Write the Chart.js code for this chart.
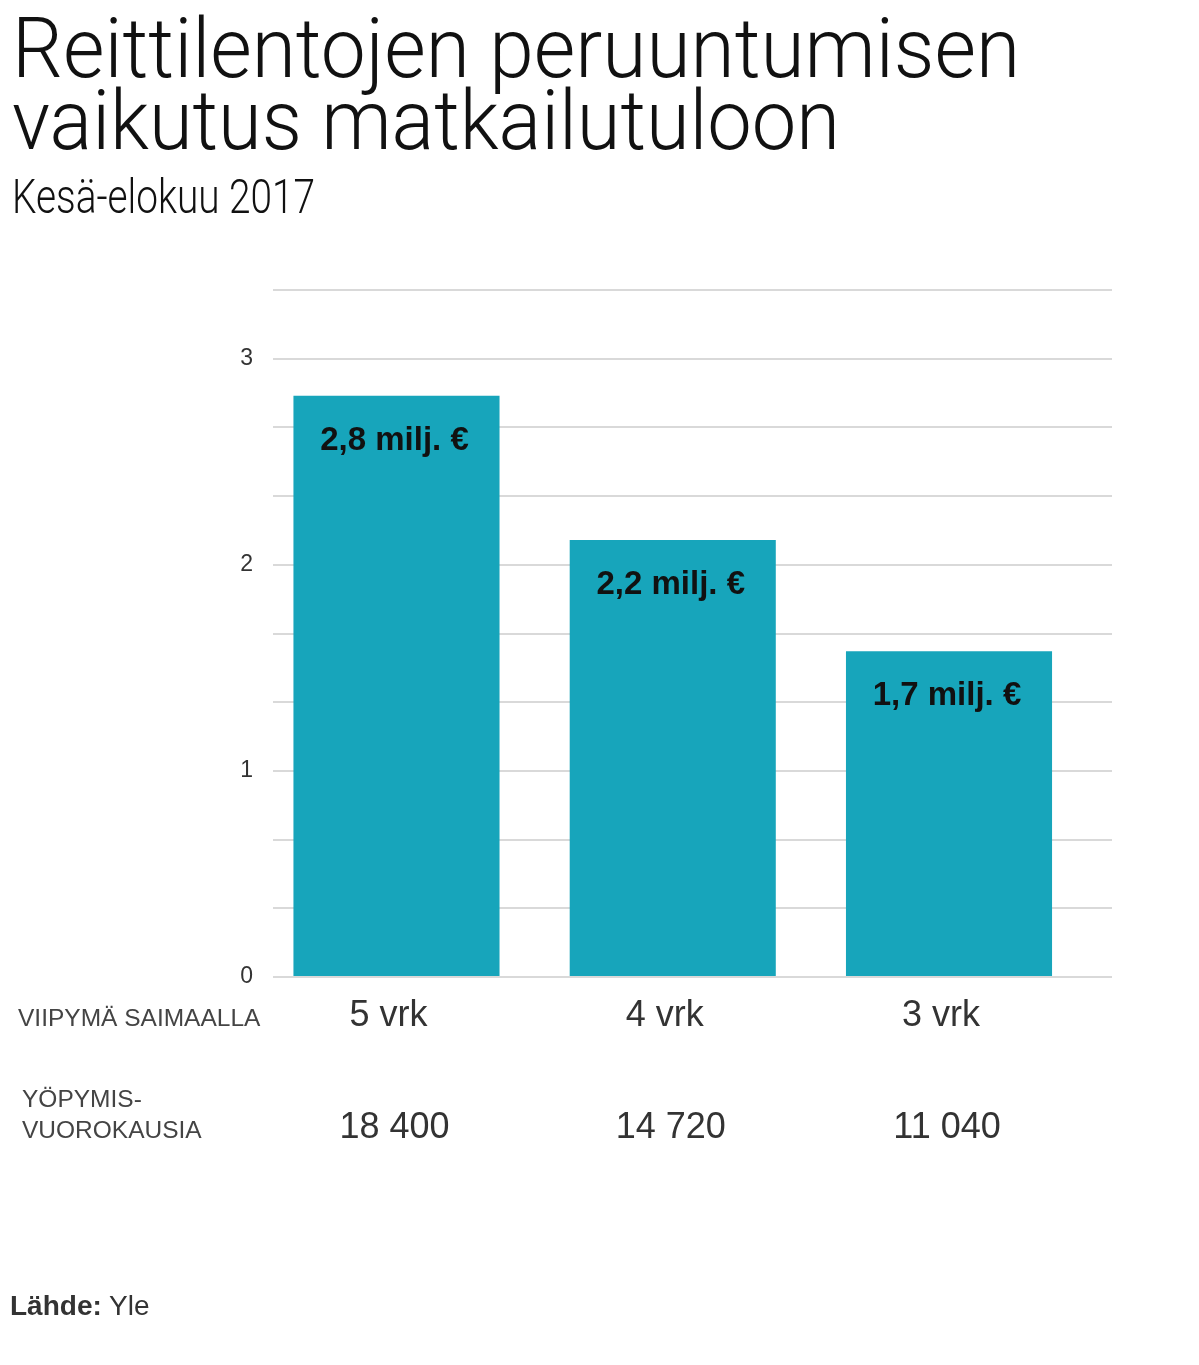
<!DOCTYPE html>
<html>
<head>
<meta charset="utf-8">
<script src="https://cdn.jsdelivr.net/npm/chart.js@4.4.1/dist/chart.umd.min.js"></script>
<style>
  html, body { margin: 0; padding: 0; background: #fff; overflow: hidden; }
  #wrap { position: relative; width: 1199px; height: 1365px; }
  #wrap canvas { position: absolute; left: 0; top: 0; }
  .t { position: absolute; left: 12px; white-space: nowrap; color: #111; font-family: Roboto, sans-serif; font-weight: 300; line-height: 1; transform-origin: 0 0; }
  #title1 { top: 7px; font-size: 84px; }
  #title2 { top: 79px; font-size: 84px; }
  #sub { top: 173px; font-size: 48px; }
  #src { position: absolute; left: 10px; top: 1290px; font: 28px "Liberation Sans", Arial, sans-serif; color: #333; }
</style>
</head>
<body>
<div id="wrap">
  <canvas id="chart" width="1199" height="1365"></canvas>
  <div class="t" id="title1" data-w="1008">Reittilentojen peruuntumisen</div>
  <div class="t" id="title2" data-w="828">vaikutus matkailutuloon</div>
  <div class="t" id="sub" data-w="303">Kesä-elokuu 2017</div>
  <div id="src"><b>Lähde:</b> Yle</div>
</div>
<script>
const stayLabels = ['5 vrk', '4 vrk', '3 vrk'];
const nights = ['18 400', '14 720', '11 040'];
const revenue = [2.82, 2.12, 1.58];
const revenueLabels = ['2,8 milj. €', '2,2 milj. €', '1,7 milj. €'];
const yTicks = [0, 1, 2, 3];

// squeeze title lines to the width they take in the picture
document.querySelectorAll('.t').forEach(el => {
  const w = el.getBoundingClientRect().width;
  el.style.transform = 'scaleX(' + (el.dataset.w / w) + ')';
});

const barText = {
  id: 'barText',
  afterDatasetsDraw(chart) {
    const ctx = chart.ctx;
    const bars = chart.getDatasetMeta(0).data;
    ctx.save();
    ctx.textAlign = 'center';
    ctx.textBaseline = 'middle';
    bars.forEach((bar, i) => {
      ctx.fillStyle = '#111';
      ctx.font = 'bold 33px "Liberation Sans", Arial, sans-serif';
      ctx.fillText(revenueLabels[i], bar.x - 2, bar.y + 45);

      ctx.fillStyle = '#333';
      ctx.font = '36px "Liberation Sans", Arial, sans-serif';
      ctx.fillText(stayLabels[i], bar.x - 8, 1016);
      ctx.fillText(nights[i], bar.x - 2, 1128);
    });
    ctx.textAlign = 'left';
    ctx.fillStyle = '#444';
    ctx.font = '24.5px "Liberation Sans", Arial, sans-serif';
    ctx.fillText('VIIPYMÄ SAIMAALLA', 18, 1019);
    ctx.fillText('YÖPYMIS-', 22, 1100);
    ctx.fillText('VUOROKAUSIA', 22, 1131);
    ctx.restore();
  }
};

new Chart(document.getElementById('chart'), {
  type: 'bar',
  data: {
    datasets: [{
      data: revenue.map((v, i) => ({ x: i, y: v })),
      backgroundColor: '#17a5bb',
      categoryPercentage: 1,
      barPercentage: 0.746
    }]
  },
  options: {
    responsive: false,
    animation: false,
    devicePixelRatio: 1,
    layout: { padding: { top: 290, right: 87, bottom: 388, left: 0 } },
    plugins: { legend: { display: false }, tooltip: { enabled: false } },
    scales: {
      x: {
        type: 'linear',
        min: -0.447,
        max: 2.59,
        offset: false,
        display: false,
        // one tick per bar, so the bar width follows the bar spacing
        afterBuildTicks: s => { s.ticks = revenue.map((v, i) => ({ value: i })); }
      },
      y: {
        min: 0,
        max: 10 / 3,
        afterFit: s => { s.width = 273; },
        border: { display: false },
        grid: { color: '#d9d9d9', lineWidth: 2, drawTicks: false },
        ticks: {
          stepSize: 1 / 3,
          padding: 20,
          color: '#333',
          font: { family: '"Liberation Sans", Arial, sans-serif', size: 23 },
          callback: v => {
            const r = Math.round(v);
            return Math.abs(v - r) < 1e-6 && yTicks.includes(r) ? String(r) : '';
          }
        }
      }
    }
  },
  plugins: [barText]
});
</script>
</body>
</html>
